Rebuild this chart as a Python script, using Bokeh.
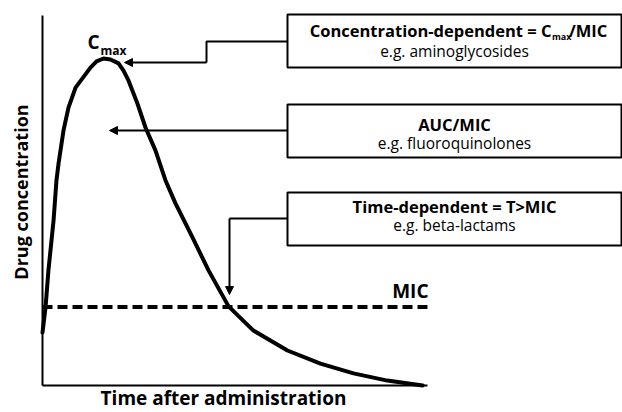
import math
from bokeh.plotting import figure
from bokeh.models import Range1d, FixedTicker, BoxAnnotation, Arrow, NormalHead, LinearAxis
from bokeh.core.properties import value
from bokeh.embed import file_html
from bokeh.resources import INLINE

# ---- data ----
time_h = [0.0, 0.19, 0.37, 0.69, 0.87, 1.0, 1.31, 1.62, 2.06, 2.99, 3.37, 3.8, 4.24,
          4.74, 5.05, 5.36, 5.92, 6.42, 7.04, 7.67, 8.29, 9.35, 10.35, 11.6, 13.15,
          15.27, 17.33, 19.39, 21.5, 23.7]
conc = [16.2, 23.9, 35.2, 50.5, 62.7, 67.9, 78.0, 85.0, 91.1, 97.2, 99.1, 100.0, 99.7,
        98.5, 96.3, 93.3, 86.2, 78.9, 71.9, 62.7, 55.7, 45.3, 35.2, 24.2, 16.8,
        10.7, 6.7, 3.7, 1.5, 0.0]
mic_value = 24.0
mic_span = [0.0, 24.0]
box_titles = ["Concentration-dependent = C", "AUC/MIC", "Time-dependent = T>MIC"]
box_examples = ["e.g. aminoglycosides", "e.g. fluoroquinolones", "e.g. beta-lactams"]
x_label = "Time after administration"
y_label = "Drug concentration"

FONT = "Open Sans"
PX_PER_H = 16.04
PX_PER_C = 3.27

# pixel (reference picture) -> data helpers for annotation placement
def X(px):
    return (px - 42) / PX_PER_H

def Y(py):
    return (385 - py) / PX_PER_C

p = figure(frame_width=622, frame_height=412,
           x_range=Range1d(X(0), X(622)), y_range=Range1d(Y(412), Y(0)),
           x_axis_type=None, y_axis_type=None,
           output_backend="svg", toolbar_location=None,
           min_border=0)
p.outline_line_color = None
p.background_fill_color = "white"
p.border_fill_color = "white"

def make_axis(bounds):
    ax = LinearAxis(fixed_location=0, ticker=FixedTicker(ticks=[]), bounds=bounds,
                    major_tick_out=0, major_tick_in=0, minor_tick_out=0, minor_tick_in=0,
                    major_label_standoff=0, major_label_text_font_size="0px",
                    axis_line_width=2, axis_line_color="black")
    return ax

p.add_layout(make_axis((0, 24)), "below")
p.add_layout(make_axis((0, 113.1)), "left")

# curve and MIC line
p.line(time_h, conc, line_width=4, line_color="black", line_join="round", line_cap="round")
p.line(mic_span, [mic_value, mic_value], line_width=4, line_color="black", line_dash="10 5")

# connectors
p.line([X(287), X(206), X(206)], [Y(41), Y(41), Y(62)], line_width=2, line_color="black")
p.line([X(287), X(229)], [Y(218), Y(218)], line_width=2, line_color="black")
head = dict(size=8, fill_color="black", line_color="black")
p.add_layout(Arrow(end=NormalHead(**head), x_start=X(206), y_start=Y(62), x_end=X(124), y_end=Y(62),
                   line_width=2, line_color="black"))
p.add_layout(Arrow(end=NormalHead(**head), x_start=X(287), y_start=Y(130), x_end=X(109), y_end=Y(130),
                   line_width=2, line_color="black"))
p.add_layout(Arrow(end=NormalHead(**head), x_start=X(229), y_start=Y(218), x_end=X(229), y_end=Y(294),
                   line_width=2, line_color="black"))

# boxes
for top, bottom in [(14, 67), (104, 157), (192, 245)]:
    p.add_layout(BoxAnnotation(left=X(287), right=X(621), top=Y(top), bottom=Y(bottom),
                               fill_color="white", fill_alpha=1, line_color="black",
                               line_width=2, line_alpha=1, level="underlay"))

def txt(x, y, text, size, bold=True, align="center", angle=0.0):
    # y is the wanted baseline (reference pixels); the svg text sits ~0.38 em low
    fs = float(size.replace("px", ""))
    if angle:
        xx, yy = X(x - 0.38 * fs), Y(y)
    else:
        xx, yy = X(x), Y(y - 0.38 * fs)
    p.text(x=[xx], y=[yy], text=[text], text_font=value(FONT),
           text_font_style="bold" if bold else "normal",
           text_font_size=value(size), text_align=align, angle=angle,
           text_baseline="alphabetic", text_color="black")

# box 1 title with subscript
txt(551, 36, box_titles[0], "16.5px", align="right")
txt(551.5, 39, "max", "9px", align="left")
txt(568.5, 36, "/MIC", "16.5px", align="left")
txt(454, 56, box_examples[0], "15.5px", bold=False)
txt(454, 130, box_titles[1], "16.5px")
txt(454, 148, box_examples[1], "15.5px", bold=False)
txt(454, 212, box_titles[2], "16.5px")
txt(454, 230, box_examples[2], "15.5px", bold=False)

# Cmax, MIC labels
txt(87, 49, "C", "19px", align="left")
txt(100, 55, "max", "12px", align="left")
txt(428, 298, "MIC", "19px", align="right")

# axis titles
txt(223, 405, x_label, "19px")
txt(27, 191.5, y_label, "18px", angle=math.pi / 2)

open("out.html", "w").write(file_html(p, INLINE))
